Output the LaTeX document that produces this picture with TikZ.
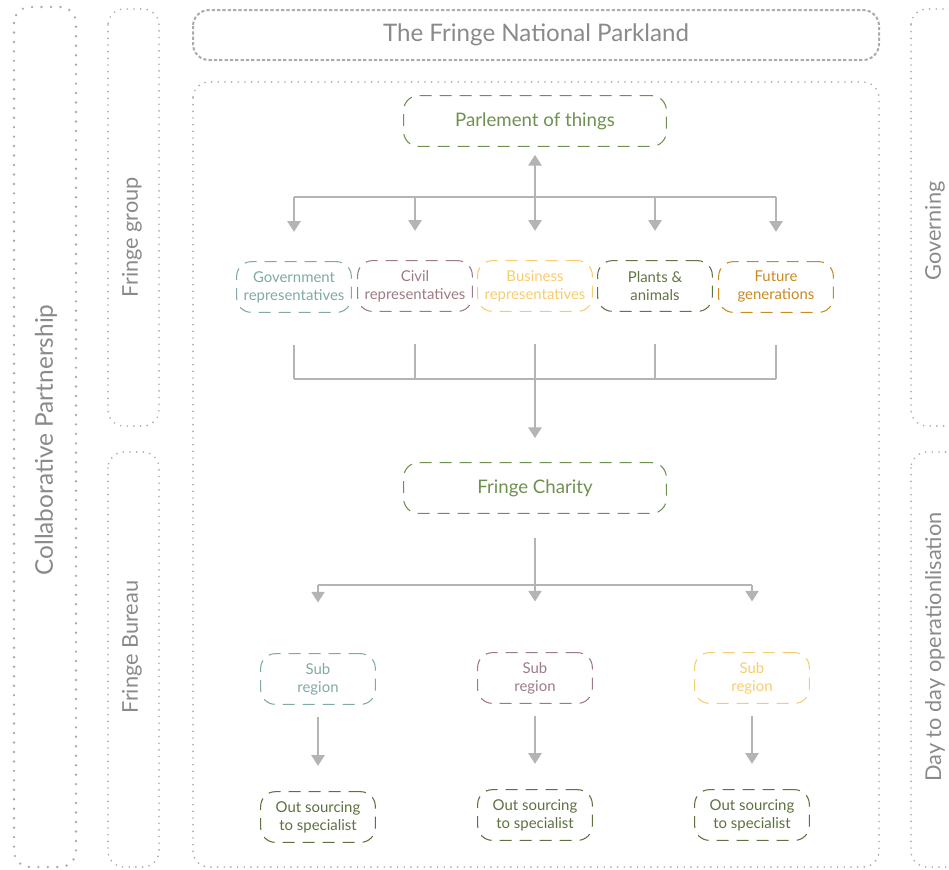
\documentclass[tikz,border=0pt]{standalone}
\usepackage{fontspec}
\setmainfont{Lato}
\usetikzlibrary{arrows.meta}
\definecolor{frameGray}{HTML}{ABABAB}
\definecolor{textGray}{HTML}{8A8A8A}
\definecolor{lineGray}{HTML}{B4B4B4}
\definecolor{govTeal}{HTML}{80A9A5}
\definecolor{civMauve}{HTML}{9E7B82}
\definecolor{busYellow}{HTML}{F7CC6E}
\definecolor{plaGreen}{HTML}{627446}
\definecolor{futOrange}{HTML}{C98A22}
\definecolor{mainGreen}{HTML}{6F9150}
\definecolor{outGreen}{HTML}{5D703F}
\begin{document}
\begin{tikzpicture}[x=0.75pt,y=-0.75pt,line join=round,>={Triangle[width=10pt,length=8pt]}]
\tikzset{
  bigdots/.style={draw=frameGray,line width=2pt,line cap=round,dash pattern=on 0pt off 7.1pt,rounded corners=12pt},
  smalldots/.style={draw=frameGray,line width=1.4pt,line cap=round,dash pattern=on 0pt off 5pt,rounded corners=12pt},
  finedash/.style={draw=frameGray,line width=1.5pt,dash pattern=on 2.4pt off 1.6pt,rounded corners=12pt},
  sidelabel/.style={text=textGray,font=\fontsize{16.3}{19}\selectfont,rotate=90},
  partbox/.style={draw=#1,text=#1,line width=0.8pt,dash pattern=on 9pt off 6pt,rounded corners=11pt,
    minimum width=86pt,minimum height=38pt,align=center,inner sep=1pt,font=\fontsize{11.2}{13.5}\selectfont},
  headbox/.style={partbox=#1,minimum width=197pt,font=\fontsize{14}{16}\selectfont},
  line/.style={draw=lineGray,line width=1.1pt},
  arr/.style={line,->,shorten >=#1},
  arr/.default=0pt
}
\useasboundingbox (0,0) rectangle (949,869);
\clip (0,0) rectangle (949,869);
% frames
\draw[bigdots] (14,7) rectangle (76,867);
\draw[smalldots] (108,9) rectangle (159,426);
\draw[smalldots] (108,452) rectangle (159,867);
\draw[smalldots] (911,9) rectangle (975,426);
\draw[smalldots] (911,452) rectangle (975,867);
\draw[finedash] (193,10) rectangle (879,60);
\draw[smalldots] (193,82) rectangle (879,867);
% frame labels
\node[text=textGray,font=\fontsize{18.1}{21}\selectfont] (title) at (536,35) {The Fringe National Parkland};
\node[sidelabel,font=\fontsize{18.3}{21}\selectfont] (collab) at (46,440) {Collaborative Partnership};
\node[sidelabel] (fgroup) at (132,237) {Fringe group};
\node[sidelabel] (fbureau) at (132,647) {Fringe Bureau};
\node[sidelabel] (govern) at (935,231) {Governing};
\node[sidelabel] (daytoday) at (935,647) {Day to day operationlisation};
% boxes
\node[headbox=mainGreen] (parl) at (535,121) {Parlement of things};
\node[partbox=govTeal] (gov) at (294,287) {Government\\representatives};
\node[partbox=civMauve] (civ) at (415,286) {Civil\\representatives};
\node[partbox=busYellow] (bus) at (535,286) {Business\\representatives};
\node[partbox=plaGreen] (pla) at (655,286) {Plants \&\\animals};
\node[partbox=futOrange] (fut) at (776,287) {Future\\generations};
\node[headbox=mainGreen] (charity) at (535,488) {Fringe Charity};
\node[partbox=govTeal] (subA) at (318,679) {Sub\\region};
\node[partbox=civMauve] (subB) at (535,678) {Sub\\region};
\node[partbox=busYellow] (subC) at (752,678) {Sub\\region};
\node[partbox=outGreen] (outA) at (318,817) {Out sourcing\\to specialist};
\node[partbox=outGreen] (outB) at (535,815) {Out sourcing\\to specialist};
\node[partbox=outGreen] (outC) at (752,815) {Out sourcing\\to specialist};
% connectors
\coordinate (splitA) at (535,197);
\coordinate (joinA) at (535,379);
\coordinate (splitB) at (535,585);
\draw[arr=6pt] (splitA) -- (parl.south);
\draw[line] (gov.north |- splitA) -- (fut.north |- splitA);
\foreach \n in {gov,civ,bus,pla,fut}
  \draw[arr=22pt] (\n.north |- splitA) -- (\n.north);
\foreach \n in {gov,civ,bus,pla,fut}
  \draw[line,shorten <=24pt] (\n.south) -- (\n.south |- joinA);
\draw[line] (gov.south |- joinA) -- (fut.south |- joinA);
\draw[arr=18pt] (joinA) -- (charity.north);
\draw[line,shorten <=18pt] (charity.south) -- (splitB);
\draw[line] (subA.north |- splitB) -- (subC.north |- splitB);
\foreach \n in {subA,subB,subC}
  \draw[arr=38pt] (\n.north |- splitB) -- (\n.north);
\draw[arr=19pt,shorten <=9pt] (subA.south) -- (outA.north);
\draw[arr=19pt,shorten <=9pt] (subB.south) -- (outB.north);
\draw[arr=19pt,shorten <=9pt] (subC.south) -- (outC.north);
\end{tikzpicture}
\end{document}
